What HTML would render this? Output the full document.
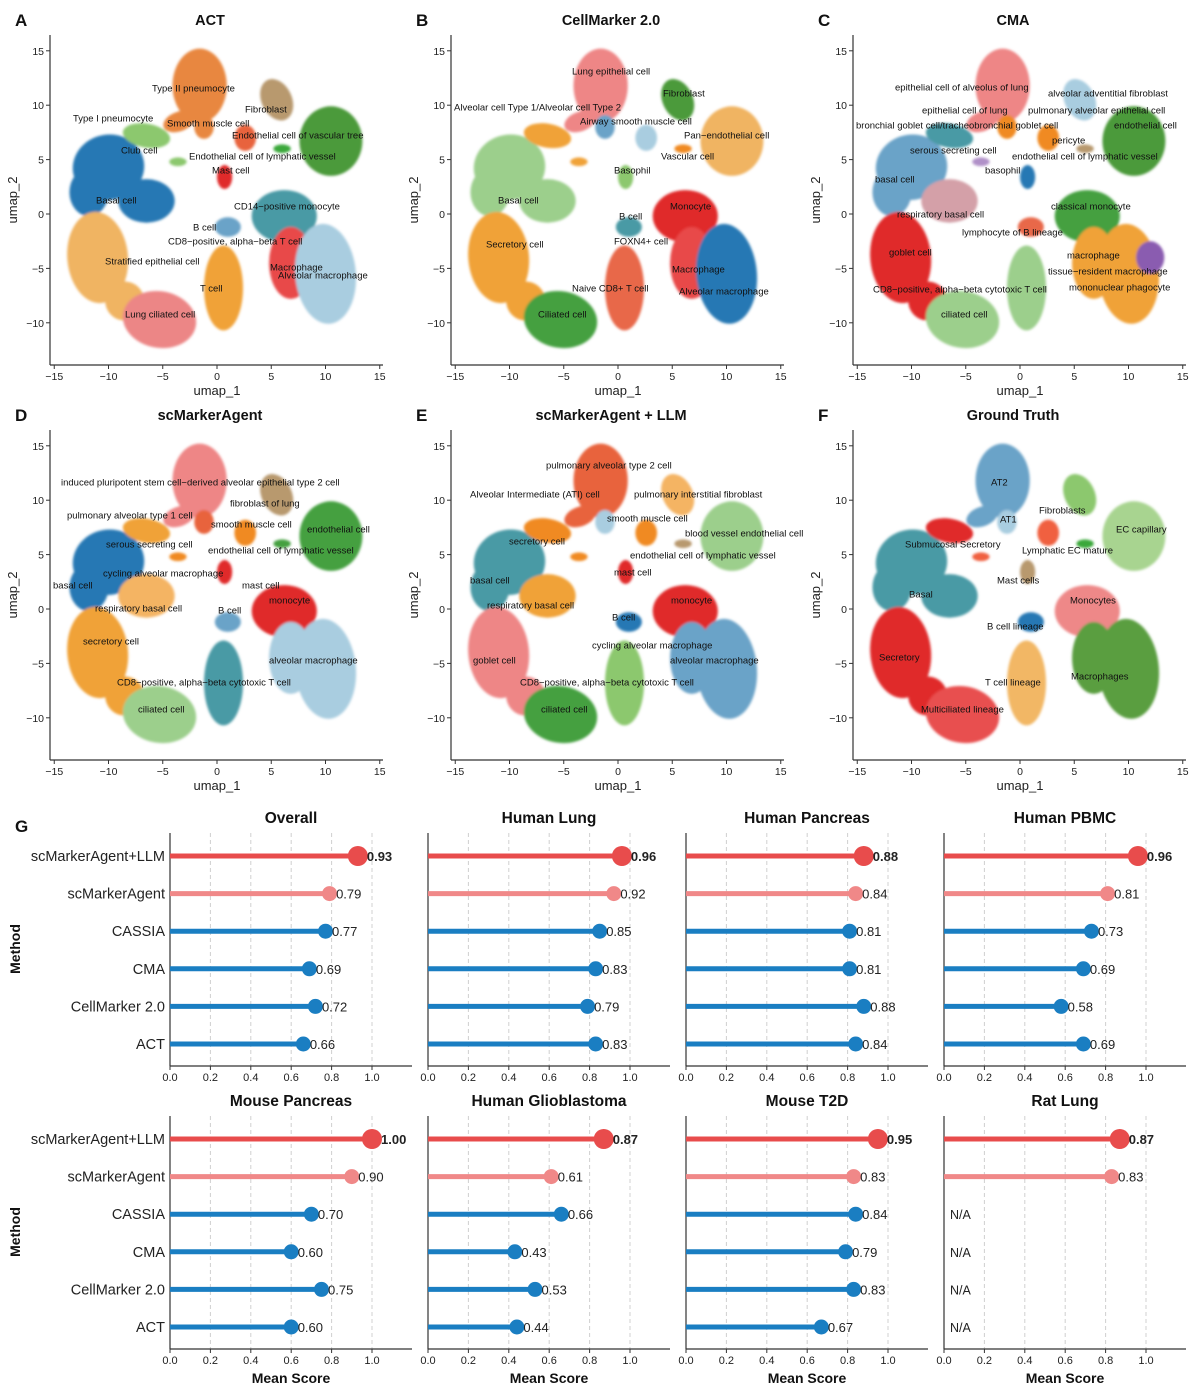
<!DOCTYPE html>
<html><head><meta charset="utf-8"><style>
body{margin:0;background:#fff;}
svg{display:block;font-family:"Liberation Sans",Arial,sans-serif;}
.lbl{font-size:9.5px;fill:#111;dominant-baseline:central;}
.tick{font-size:10.5px;fill:#222;}
</style></head><body>
<svg id="fig" width="1203" height="1399" viewBox="0 0 1203 1399" xmlns="http://www.w3.org/2000/svg">
<defs><filter id="soft" x="-20%" y="-20%" width="140%" height="140%"><feGaussianBlur stdDeviation="1.4"/></filter></defs>
<g id="umaps"></g>
<g id="lolli"></g>
</svg>
<script>
const NS="http://www.w3.org/2000/svg";
function mk(tag,attrs,parent,text){const e=document.createElementNS(NS,tag);for(const k in attrs)e.setAttribute(k,attrs[k]);if(text!==undefined)e.textContent=text;parent.appendChild(e);return e;}

// ---------- UMAP data ----------
const clusterX=[-1.6,-1.2,5.5,10.5,2.6,6.0,-10,-6.5,-11.8,-6.5,-3.6,0.7,-11,-8.5,-5.3,0.6,1.0,6.2,6.8,10.0,-3.5];
const clusterY=[11.8,8,10.5,6.7,7,6,4.3,1.2,2,7.2,4.8,3.4,-4,-8,-9.7,-6.8,-1.2,-0.2,-4.5,-5.5,8.5];
const clusterRX=[2.5,0.9,1.4,2.9,1.0,0.8,3.3,2.6,1.8,2.2,0.8,0.7,2.8,1.8,3.4,1.8,1.2,3.0,2.0,2.8,1.5];
const clusterRY=[3.4,1.1,2,3.2,1.2,0.4,3.0,2.0,2.2,1.1,0.4,1.1,4.2,1.8,2.6,3.9,0.9,2.4,3.3,4.6,0.9];
const clusterRot=[0,0,-25,0,0,0,-10,0,0,10,0,0,-5,0,10,0,0,0,0,-5,-20];
const panelColors=[
 ["#e8873f","#e8873f","#b8996e","#4c9a3a","#e8643c","#3aa83a","#2878b4","#2878b4","#2878b4","#8cc86e","#8cc86e","#e02a2a","#f0b462","#f0b462","#ec8686","#f0a238","#6aa3c8","#4a9aa5","#e84848","#a9cde0","#e8873f"],
 ["#ee8686","#6aa3c8","#4c9a3a","#f0b462","#a9cde0","#f08a20","#9ccf8c","#9ccf8c","#9ccf8c","#f0a238","#f0a238","#8cc86e","#f0a238","#f0a238","#45a040","#e86848","#4a9aa5","#e02a2a","#e84848","#2878b4","#ee8686"],
 ["#ee8686","#f08a20","#a9cde0","#4c9a3a","#f08a20","#b8996e","#6aa3c8","#d4a0a8","#6aa3c8","#4a9aa5","#b090c8","#2878b4","#e02a2a","#e02a2a","#9ccf8c","#9ccf8c","#e86848","#45a040","#f0a238","#f0a238","#ee8686"],
 ["#ee8686","#e8643c","#b8996e","#45a040","#f08a20","#45a040","#2878b4","#f4b464","#2878b4","#f0a238","#f08a20","#e02a2a","#f0a238","#f0a238","#9ccf8c","#4a9aa5","#6aa3c8","#e02a2a","#a9cde0","#a9cde0","#ee8686"],
 ["#e8643c","#a9cde0","#f4b464","#9ccf8c","#f08a20","#b8996e","#4a9aa5","#f0a238","#4a9aa5","#f08a20","#f08a20","#e02a2a","#ee8686","#ee8686","#45a040","#8cc86e","#2878b4","#e02a2a","#6aa3c8","#6aa3c8","#e8643c"],
 ["#6aa3c8","#a9cde0","#8cc86e","#a8d490","#f06040","#3aa83a","#4a9aa5","#4a9aa5","#4a9aa5","#e02a2a","#f06040","#b8996e","#e02a2a","#e02a2a","#e85050","#f2b765","#2878b4","#ee8888","#5a9e3f","#5a9e3f","#6aa3c8"]
];
const panelTitles=["ACT","CellMarker 2.0","CMA","scMarkerAgent","scMarkerAgent + LLM","Ground Truth"];
const panelLetters=["A","B","C","D","E","F"];
const panelX0=[217,618,1020,217,618,1020];
const panelY0=[214,214,214,609,609,609];
const umapTicks=[-15,-10,-5,0,5,10,15];
const umapYTicks=[15,10,5,0,-5,-10];
const panelLabels=[
 [["Type II pneumocyte",152,89],["Fibroblast",245,110],["Type I pneumocyte",73,119],["Smooth muscle cell",167,124],["Endothelial cell of vascular tree",232,136],["Club cell",121,151],["Endothelial cell of lymphatic vessel",189,157],["Mast cell",212,171],["Basal cell",96,201],["CD14−positive monocyte",234,207],["B cell",193,228],["CD8−positive, alpha−beta T cell",168,242],["Stratified epithelial cell",105,262],["Macrophage",270,268],["Alveolar macrophage",278,276],["T cell",200,289],["Lung ciliated cell",125,315]],
 [["Lung epithelial cell",572,72],["Fibroblast",663,94],["Alveolar cell Type 1/Alveolar cell Type 2",454,108],["Airway smooth muscle cell",580,122],["Pan−endothelial cell",684,136],["Vascular cell",661,157],["Basophil",614,171],["Basal cell",498,201],["Monocyte",670,207],["B cell",619,217],["Secretory cell",486,245],["FOXN4+ cell",614,242],["Macrophage",672,270],["Naive CD8+ T cell",572,289],["Alveolar macrophage",679,292],["Ciliated cell",538,315]],
 [["epithelial cell of alveolus of lung",895,88],["alveolar adventitial fibroblast",1048,94],["epithelial cell of lung",922,111],["pulmonary alveolar epithelial cell",1028,111],["bronchial goblet cell/tracheobronchial goblet cell",856,126],["endothelial cell",1114,126],["pericyte",1052,141],["serous secreting cell",910,151],["endothelial cell of lymphatic vessel",1012,157],["basophil",985,171],["basal cell",875,180],["classical monocyte",1051,207],["respiratory basal cell",897,215],["lymphocyte of B lineage",962,233],["goblet cell",889,253],["macrophage",1067,256],["tissue−resident macrophage",1048,272],["CD8−positive, alpha−beta cytotoxic T cell",873,290],["mononuclear phagocyte",1069,288],["ciliated cell",941,315]],
 [["induced pluripotent stem cell−derived alveolar epithelial type 2 cell",61,483],["fibroblast of lung",230,504],["pulmonary alveolar type 1 cell",67,516],["smooth muscle cell",211,525],["endothelial cell",307,530],["serous secreting cell",106,545],["endothelial cell of lymphatic vessel",208,551],["cycling alveolar macrophage",103,574],["basal cell",53,586],["mast cell",242,586],["monocyte",269,601],["respiratory basal cell",95,609],["B cell",218,611],["secretory cell",83,642],["alveolar macrophage",269,661],["CD8−positive, alpha−beta cytotoxic T cell",117,683],["ciliated cell",138,710]],
 [["pulmonary alveolar type 2 cell",546,466],["Alveolar Intermediate (ATI) cell",470,495],["pulmonary interstitial fibroblast",634,495],["smooth muscle cell",607,519],["blood vessel endothelial cell",685,534],["secretory cell",509,542],["endothelial cell of lymphatic vessel",630,556],["mast cell",614,573],["basal cell",470,581],["monocyte",671,601],["respiratory basal cell",487,606],["B cell",612,618],["cycling alveolar macrophage",592,646],["goblet cell",473,661],["alveolar macrophage",670,661],["CD8−positive, alpha−beta cytotoxic T cell",520,683],["ciliated cell",541,710]],
 [["AT2",991,483],["AT1",1000,520],["Fibroblasts",1039,511],["EC capillary",1116,530],["Submucosal Secretory",905,545],["Lymphatic EC mature",1022,551],["Mast cells",997,581],["Basal",909,595],["Monocytes",1070,601],["B cell lineage",987,627],["Secretory",879,658],["T cell lineage",985,683],["Macrophages",1071,677],["Multiciliated lineage",921,710]]
];
const SX=10.85, SY=10.88;
const U=document.getElementById('umaps');
panelTitles.forEach((title,p)=>{
  const x0=panelX0[p], y0=panelY0[p];
  const g=mk('g',{},U);
  
  
  const sx=u=>x0+u*SX, sy=v=>y0-v*SY;
  const cg=mk('g',{filter:'url(#soft)'},g);
  
  
  clusterX.forEach((cx,i)=>{
    const e=mk('ellipse',{cx:sx(cx),cy:sy(clusterY[i]),rx:clusterRX[i]*SX,ry:clusterRY[i]*SY,fill:panelColors[p][i],transform:`rotate(${clusterRot[i]} ${sx(cx)} ${sy(clusterY[i])})`},cg);
    
    
  });
  if(p===2){const e=mk('ellipse',{cx:sx(12),cy:sy(-4),rx:1.3*SX,ry:1.5*SY,fill:'#8a5cb0'},cg);}
  const left=x0-167, bottom=y0+151, top=y0-179;
  mk('line',{x1:left,y1:top,x2:left,y2:bottom,stroke:'#333','stroke-width':1.2},g);
  mk('line',{x1:left,y1:bottom,x2:x0+166,y2:bottom,stroke:'#333','stroke-width':1.2},g);
  umapTicks.forEach(t=>{mk('line',{x1:sx(t),y1:bottom,x2:sx(t),y2:bottom+4,stroke:'#333'},g);
    const tl=mk('text',{x:sx(t),y:bottom+15,'text-anchor':'middle',class:'tick'},g,t<0?'−'+(-t):String(t));
    });
  umapYTicks.forEach(t=>{mk('line',{x1:left-4,y1:sy(t),x2:left,y2:sy(t),stroke:'#333'},g);
    const tl=mk('text',{x:left-6,y:sy(t)+4,'text-anchor':'end',class:'tick'},g,t<0?'−'+(-t):String(t));
    });
  const xt=mk('text',{x:x0,y:bottom+30,'text-anchor':'middle','font-size':'13px',fill:'#222'},g,'umap_1');
  
  const yt=mk('text',{x:0,y:0,'text-anchor':'middle','font-size':'13px',fill:'#222',transform:`translate(${left-33},${y0-14}) rotate(-90)`},g,'umap_2');
  
  const tt=mk('text',{x:x0-7,y:top-10,'text-anchor':'middle','font-size':'14.5px','font-weight':'bold',fill:'#111'},g,title);
  
  const lt=mk('text',{x:left-35,y:top-9,'font-size':'17px','font-weight':'bold',fill:'#111'},g,panelLetters[p]);
  
  panelLabels[p].forEach(l=>{const t=mk('text',{x:l[1],y:l[2],class:'lbl'},g,l[0]);
    });
});

// ---------- Lollipop data ----------
const methods=["scMarkerAgent+LLM","scMarkerAgent","CASSIA","CMA","CellMarker 2.0","ACT"];
const datasets=["Overall","Human Lung","Human Pancreas","Human PBMC","Mouse Pancreas","Human Glioblastoma","Mouse T2D","Rat Lung"];
const scoresOverall=[0.93,0.79,0.77,0.69,0.72,0.66];
const scoresHumanLung=[0.96,0.92,0.85,0.83,0.79,0.83];
const scoresHumanPancreas=[0.88,0.84,0.81,0.81,0.88,0.84];
const scoresHumanPBMC=[0.96,0.81,0.73,0.69,0.58,0.69];
const scoresMousePancreas=[1.00,0.90,0.70,0.60,0.75,0.60];
const scoresHumanGlioblastoma=[0.87,0.61,0.66,0.43,0.53,0.44];
const scoresMouseT2D=[0.95,0.83,0.84,0.79,0.83,0.67];
const scoresRatLung=[0.87,0.83,null,null,null,null];
const allScores=[scoresOverall,scoresHumanLung,scoresHumanPancreas,scoresHumanPBMC,scoresMousePancreas,scoresHumanGlioblastoma,scoresMouseT2D,scoresRatLung];
const scoreTicks=[0,0.2,0.4,0.6,0.8,1.0];
const methodColors=["#e84c4c","#f08888","#1a7ec2","#1a7ec2","#1a7ec2","#1a7ec2"];
const L=document.getElementById('lolli');
const lx0=[170,428,686,944], PX=202;
const gl=mk('text',{x:15,y:832,'font-size':'17px','font-weight':'bold',fill:'#111'},L,'G');

datasets.forEach((ds,d)=>{
  const col=d%4,row=Math.floor(d/4);
  const x0=lx0[col], dy=row*283;
  const rowY=i=>856+dy+i*37.6;
  const xs=v=>x0+v*PX;
  const g=mk('g',{},L);
  
  
  scoreTicks.slice(1).forEach(t=>mk('line',{x1:xs(t),y1:833+dy,x2:xs(t),y2:1066+dy,stroke:'#d0d0d0','stroke-dasharray':'4,3'},g));
  mk('line',{x1:x0,y1:833+dy,x2:x0,y2:1066+dy,stroke:'#333','stroke-width':1.2},g);
  mk('line',{x1:x0,y1:1066+dy,x2:x0+242,y2:1066+dy,stroke:'#333','stroke-width':1.2},g);
  scoreTicks.forEach(t=>{mk('line',{x1:xs(t),y1:1066+dy,x2:xs(t),y2:1070+dy,stroke:'#333'},g);
    const tl=mk('text',{x:xs(t),y:1081+dy,'text-anchor':'middle','font-size':'11px',fill:'#222'},g,t.toFixed(1));
    });
  const tt=mk('text',{x:x0+121,y:823+dy,'text-anchor':'middle','font-size':'15.5px','font-weight':'bold',fill:'#111'},g,ds);
  
  if(row===1){const xt=mk('text',{x:x0+121,y:1383,'text-anchor':'middle','font-size':'14px','font-weight':'bold',fill:'#111'},g,'Mean Score');
    }
  if(col===0){
    methods.forEach((m,i)=>{const t=mk('text',{x:165,y:rowY(i)+5,'text-anchor':'end','font-size':'14.5px',fill:'#222'},g,m);
      });
    const yt=mk('text',{x:0,y:0,'text-anchor':'middle','font-size':'14px','font-weight':'bold',fill:'#111',transform:`translate(20,${949+dy}) rotate(-90)`},g,'Method');
    
  }
  allScores[d].forEach((v,i)=>{
    const y=rowY(i);
    if(v===null){const t=mk('text',{x:x0+6,y:y+5,'font-size':'12.5px',fill:'#222'},g,'N/A');
      return;}
    const ln=mk('line',{x1:x0,y1:y,x2:xs(v),y2:y,stroke:methodColors[i],'stroke-width':5},g);
    
    const r=i===0?10:7.5;
    const c=mk('circle',{cx:xs(v),cy:y,r:r,fill:methodColors[i]},g);
    
    const t=mk('text',{x:xs(v)+r-1,y:y+5,'font-size':'13px','font-weight':i===0?'bold':'normal',fill:'#222'},g,v.toFixed(2));
    
  });
});
</script>
</body></html>
